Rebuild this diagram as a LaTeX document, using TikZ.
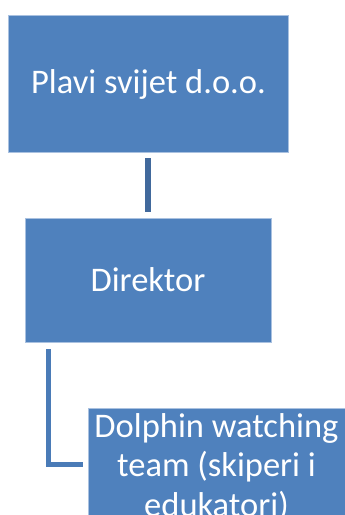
\documentclass[tikz,border=0pt]{standalone}
\usepackage{fontspec}
\setmainfont{Carlito}
\definecolor{boxblue}{HTML}{4F81BD}
\definecolor{boxedge}{HTML}{A9C1E0}
\definecolor{linkdark}{HTML}{41699C}
\definecolor{linkblue}{HTML}{4A7BB7}
\begin{document}
\begin{tikzpicture}[x=1pt,y=-1pt,
  orgbox/.style={draw=boxedge,line width=0.8pt,fill=boxblue},
  orglabel/.style={text=white,font=\fontsize{34.5}{39.5}\selectfont,align=center,inner sep=0pt},
  link/.style={line width=6pt,line cap=butt}]
  \useasboundingbox (0,0) rectangle (345,515);
  \clip (0,0) rectangle (345,515);
  % boxes
  \draw[orgbox] (8,15) rectangle (288,152);
  \node[orglabel] (top) at (148.5,84) {Plavi svijet d.o.o.};
  \draw[orgbox] (25,218) rectangle (271,342);
  \node[orglabel] (dir) at (148,280) {Direktor};
  \draw[orgbox] (88.5,408.5) rectangle (352,560);
  % the base anchor of a multi-line node sits on its last line
  \node[orglabel,anchor=base] (team) at (216.5,516) {Dolphin watching\\team (skiperi i\\edukatori)};
  % connectors
  \coordinate (t1) at (148.3,158.3);
  \coordinate (d1) at (148.3,212.3);
  \draw[link,draw=linkdark] (t1) -- (d1);
  \coordinate (d2) at (48.3,349);
  \coordinate (m2) at (48.3,464.5);
  \coordinate (e2) at (82.7,464.5);
  \draw[link,draw=linkblue,line width=5.5pt] (d2) -- (m2) -- (e2);
\end{tikzpicture}
\end{document}
